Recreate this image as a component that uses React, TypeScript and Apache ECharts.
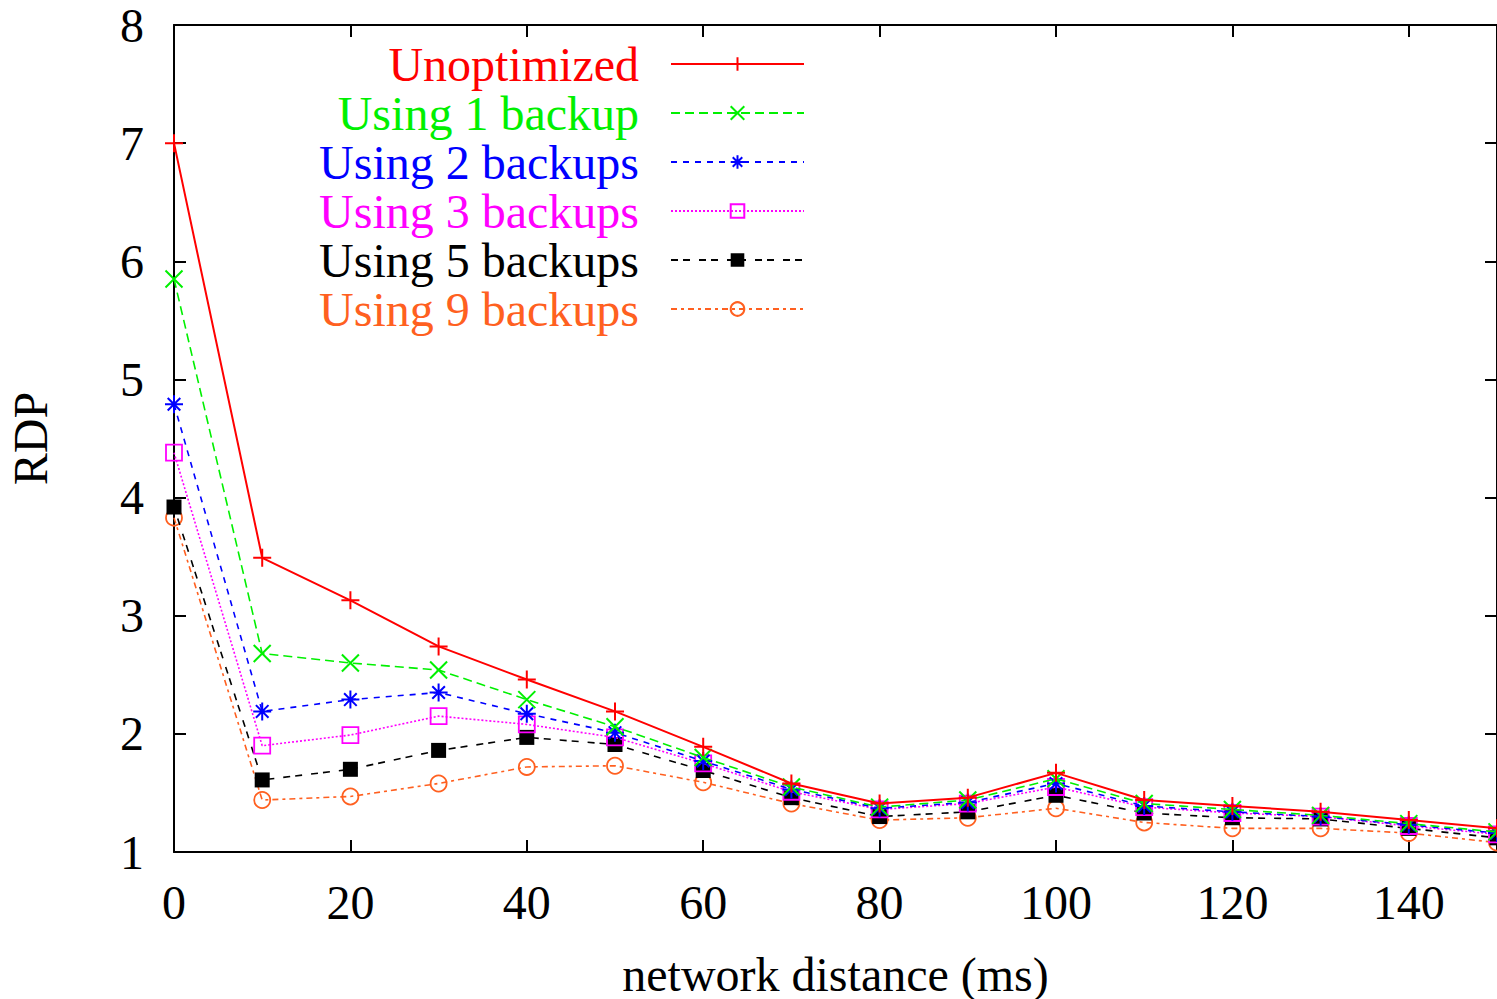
import React, { useEffect, useRef } from "react";
import * as echarts from "echarts";

const distances = [0, 10, 20, 30, 40, 50, 60, 70, 80, 90, 100, 110, 120, 130, 140, 150];
const unoptimized = [7.0, 3.49, 3.13, 2.74, 2.46, 2.19, 1.89, 1.58, 1.41, 1.46, 1.67, 1.44, 1.39, 1.34, 1.27, 1.2];
const backup1 = [5.85, 2.68, 2.6, 2.54, 2.29, 2.06, 1.8, 1.55, 1.38, 1.44, 1.62, 1.41, 1.36, 1.31, 1.24, 1.17];
const backup2 = [4.79, 2.19, 2.29, 2.35, 2.17, 2.01, 1.77, 1.53, 1.37, 1.42, 1.58, 1.39, 1.34, 1.3, 1.23, 1.16];
const backup3 = [4.38, 1.9, 1.99, 2.15, 2.08, 1.97, 1.75, 1.51, 1.36, 1.41, 1.55, 1.38, 1.33, 1.3, 1.22, 1.15];
const backup5 = [3.92, 1.61, 1.7, 1.86, 1.97, 1.91, 1.69, 1.46, 1.3, 1.34, 1.48, 1.33, 1.29, 1.28, 1.2, 1.12];
const backup9 = [3.83, 1.44, 1.47, 1.58, 1.72, 1.73, 1.59, 1.41, 1.27, 1.29, 1.37, 1.25, 1.2, 1.2, 1.16, 1.08];

const seriesNames = [
  "Unoptimized",
  "Using 1 backup",
  "Using 2 backups",
  "Using 3 backups",
  "Using 5 backups",
  "Using 9 backups",
];
const xTicks = [0, 20, 40, 60, 80, 100, 120, 140];
const yTicks = [1, 2, 3, 4, 5, 6, 7, 8];

const FONT = "'Liberation Serif', 'DejaVu Serif', serif";
const FS = 48;

const PLUS = "path://M0,10L20,10M10,0L10,20";
const CROSS = "path://M0,0L20,20M20,0L0,20";
const STAR = "path://M0,10L20,10M10,0L10,20M3,3L17,17M17,3L3,17";

export default function App() {
  const ref = useRef<HTMLDivElement>(null);
  useEffect(() => {
    if (!ref.current) return;
    const chart = echarts.init(ref.current, null, { renderer: "svg" });
    const colors = ["#ff0000", "#00f000", "#0000ff", "#ff00ff", "#000000", "#ff6020"];
    const symbols = [PLUS, CROSS, STAR, "rect", "rect", "circle"];
    const sizes = [18, 17, 18, 16, 15, 16];
    const filled = [false, false, false, false, true, false];
    const dashes: any[] = ["solid", [9, 5], [6, 6], [2, 2], [7, 5, 7, 9], [6, 4, 3, 4]];
    const values = [unoptimized, backup1, backup2, backup3, backup5, backup9];
    const rowCenters = [64, 113, 162, 211, 260, 309];

    const series = seriesNames.map((name, i) => ({
      name,
      type: "line",
      data: distances.map((d, j) => [d, values[i][j]]),
      symbol: symbols[i],
      symbolSize: sizes[i],
      lineStyle: { color: colors[i], width: i === 0 ? 2 : 1.6, type: dashes[i] },
      itemStyle: filled[i]
        ? { color: colors[i], borderWidth: 0 }
        : { color: "rgba(0,0,0,0)", borderColor: colors[i], borderWidth: i < 3 ? 2 : 1.8 },
      emphasis: { disabled: true },
      z: 10 - i,
    }));

    const legends = seriesNames.map((name, i) => ({
      data: [name],
      orient: "vertical",
      right: 692,
      top: rowCenters[i] - 24,
      padding: 0,
      align: "right",
      itemWidth: 133,
      itemHeight: 17,
      selectedMode: false,
      textStyle: {
        color: colors[i],
        fontFamily: FONT,
        fontSize: FS,
        lineHeight: 48,
        padding: [0, 27, 0, 0],
      },
    }));

    const axisLabel = { fontFamily: FONT, fontSize: FS, color: "#000" };
    chart.setOption({
      animation: false,
      backgroundColor: "#fff",
      grid: {
        left: 174,
        right: 0,
        top: 25,
        bottom: 147,
        show: false,
        containLabel: false,
        outerBoundsMode: "none",
      },
      legend: legends,
      xAxis: [
        {
          type: "value",
          min: 0,
          max: 150,
          interval: 20,
          name: "network distance (ms)",
          nameLocation: "middle",
          nameGap: 102,
          nameTextStyle: { fontFamily: FONT, fontSize: FS, color: "#000", lineHeight: 40 },
          axisLine: { show: true, lineStyle: { color: "#000", width: 2 } },
          axisTick: { show: true, inside: true, length: 12, lineStyle: { color: "#000", width: 2 } },
          axisLabel: {
            ...axisLabel,
            margin: 26,
            showMaxLabel: false,
            formatter: (v: number) => (xTicks.includes(v) ? String(v) : ""),
          },
          splitLine: { show: false },
        },
        {
          type: "value",
          position: "top",
          min: 0,
          max: 150,
          interval: 20,
          axisLine: { show: true, onZero: false, lineStyle: { color: "#000", width: 2 } },
          axisTick: { show: true, inside: true, length: 12, lineStyle: { color: "#000", width: 2 } },
          axisLabel: { show: false },
          splitLine: { show: false },
        },
      ],
      yAxis: [
        {
          type: "value",
          min: 1,
          max: 8,
          interval: 1,
          name: "RDP",
          nameLocation: "middle",
          nameGap: 120,
          nameTextStyle: { fontFamily: FONT, fontSize: FS, color: "#000" },
          axisLine: { show: true, lineStyle: { color: "#000", width: 2 } },
          axisTick: { show: true, inside: true, length: 12, lineStyle: { color: "#000", width: 2 } },
          axisLabel: {
            ...axisLabel,
            margin: 30,
            formatter: (v: number) => (yTicks.includes(v) ? String(v) : ""),
          },
          splitLine: { show: false },
        },
        {
          type: "value",
          position: "right",
          min: 1,
          max: 8,
          interval: 1,
          axisLine: { show: true, onZero: false, lineStyle: { color: "#000", width: 2 } },
          axisTick: { show: true, inside: true, length: 12, lineStyle: { color: "#000", width: 2 } },
          axisLabel: { show: false },
          splitLine: { show: false },
        },
      ],
      series,
    });
    return () => chart.dispose();
  }, []);
  return (
    <div
      ref={ref}
      style={{ position: "absolute", left: 0, top: 0, width: 1497, height: 999, background: "#fff" }}
    />
  );
}
